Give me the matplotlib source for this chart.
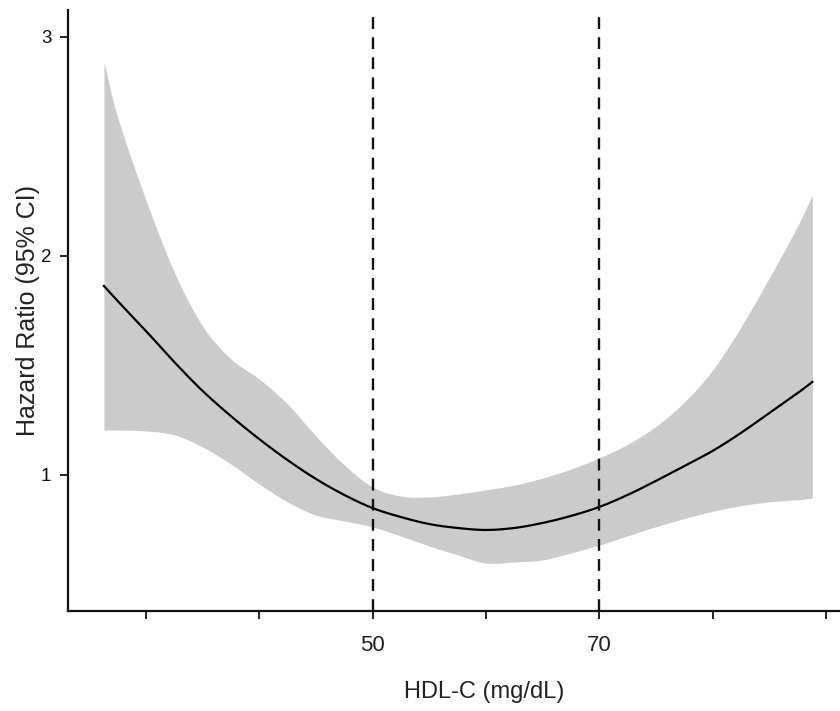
import numpy as np
import matplotlib
matplotlib.use("Agg")
import matplotlib.pyplot as plt

plt.rcParams['font.family'] = ['Liberation Sans', 'DejaVu Sans']

# Restricted cubic spline estimate of hazard ratio vs HDL-C
hdl = [26.3, 27.5, 30, 32.5, 35, 37.5, 40, 42.5, 45, 47.5, 50, 52.5, 55, 57.5,
       60, 62.5, 65, 67.5, 70, 72.5, 75, 77.5, 80, 82.5, 85, 87.5, 88.8]
hr = [1.863, 1.795, 1.658, 1.516, 1.384, 1.269, 1.164, 1.068, 0.982, 0.909,
      0.849, 0.808, 0.776, 0.758, 0.749, 0.758, 0.781, 0.813, 0.854, 0.909,
      0.973, 1.041, 1.110, 1.192, 1.283, 1.374, 1.425]
upper = [2.886, 2.635, 2.256, 1.927, 1.680, 1.530, 1.438, 1.324, 1.178, 1.046,
         0.945, 0.904, 0.900, 0.913, 0.932, 0.954, 0.986, 1.027, 1.078, 1.140,
         1.222, 1.333, 1.479, 1.676, 1.900, 2.137, 2.279]
lower = [1.205, 1.205, 1.201, 1.183, 1.128, 1.050, 0.959, 0.877, 0.817, 0.790,
         0.763, 0.721, 0.676, 0.635, 0.598, 0.603, 0.612, 0.644, 0.680, 0.722,
         0.764, 0.801, 0.834, 0.860, 0.877, 0.887, 0.895]
cutoffs = [50, 70]
xtick_major = [50, 70]
xtick_minor = [30, 40, 60, 80, 90]
yticks = [1, 2, 3]


def smooth(x, y, n=12):
    """Catmull-Rom pass through the given points for a smooth drawn curve."""
    x = np.asarray(x, float)
    y = np.asarray(y, float)
    px = np.concatenate([[2 * x[0] - x[1]], x, [2 * x[-1] - x[-2]]])
    py = np.concatenate([[2 * y[0] - y[1]], y, [2 * y[-1] - y[-2]]])
    xs, ys = [], []
    t = np.linspace(0, 1, n, endpoint=False)
    for i in range(1, len(px) - 2):
        for arr, out in ((px, xs), (py, ys)):
            p0, p1, p2, p3 = arr[i - 1], arr[i], arr[i + 1], arr[i + 2]
            out.extend(0.5 * ((2 * p1) + (-p0 + p2) * t
                              + (2 * p0 - 5 * p1 + 4 * p2 - p3) * t ** 2
                              + (-p0 + 3 * p1 - 3 * p2 + p3) * t ** 3))
    xs.append(x[-1])
    ys.append(y[-1])
    return np.array(xs), np.array(ys)


fig = plt.figure(figsize=(8.4, 7.11), dpi=100)
ax = fig.add_axes([68 / 840, 1 - 611 / 711, 771 / 840, 601 / 711])

sx, su = smooth(hdl, upper)
_, sl = smooth(hdl, lower)
_, sh = smooth(hdl, hr)

ax.fill_between(sx, sl, su, color='#cbcbcb', linewidth=0, zorder=1)
ax.plot(sx, sh, color='black', linewidth=1.6, zorder=3)
for c in cutoffs:
    ax.axvline(c, color='#111111', linewidth=1.7, dashes=(5, 3.5), zorder=4)

ax.set_xlim(23.13, 91.15)
ax.set_ylim(0.379, 3.123)

ax.set_xticks(xtick_major)
ax.set_xticklabels([str(v) for v in xtick_major], fontsize=16)
ax.set_xticks(xtick_minor, minor=True)
ax.set_yticks(yticks)
ax.set_yticklabels([str(v) for v in yticks], fontsize=13.5, color='#222222')

ax.tick_params(axis='x', which='both', direction='out', length=6, width=1.3,
               pad=11, colors='#111111')
ax.tick_params(axis='y', direction='out', length=6, width=1.3, pad=6,
               colors='#111111')
for lbl in ax.get_xticklabels():
    lbl.set_color('#222222')

for side in ('top', 'right'):
    ax.spines[side].set_visible(False)
for side in ('left', 'bottom'):
    ax.spines[side].set_linewidth(1.6)
    ax.spines[side].set_color('#111111')

ax.set_xlabel('HDL-C (mg/dL)', fontsize=17, color='#222222')
ax.set_ylabel('Hazard Ratio (95% CI)', fontsize=18, color='#222222')
ax.xaxis.set_label_coords(0.54, -0.117)
ax.yaxis.set_label_coords(-0.036, 0.5)

fig.savefig('out.png', dpi=100)
